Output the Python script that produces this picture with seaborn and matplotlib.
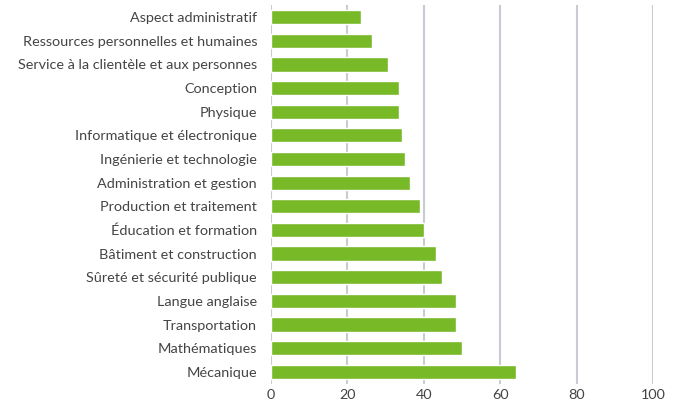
import matplotlib
matplotlib.use("Agg")
import matplotlib.pyplot as plt
import seaborn as sns
import pandas as pd

# data
categories = [
    "Aspect administratif",
    "Ressources personnelles et humaines",
    "Service à la clientèle et aux personnes",
    "Conception",
    "Physique",
    "Informatique et électronique",
    "Ingénierie et technologie",
    "Administration et gestion",
    "Production et traitement",
    "Éducation et formation",
    "Bâtiment et construction",
    "Sûreté et sécurité publique",
    "Langue anglaise",
    "Transportation",
    "Mathématiques",
    "Mécanique",
]
values = [23.6, 26.5, 30.7, 33.6, 33.6, 34.2, 35.2, 36.5, 38.9, 40.0,
          43.1, 44.7, 48.3, 48.3, 49.9, 64.1]
x_ticks = [0, 20, 40, 60, 80, 100]

df = pd.DataFrame({"categorie": categories, "valeur": values})

sns.set_style("white")
plt.rcParams["font.family"] = ["Lato", "DejaVu Sans"]

fig = plt.figure(figsize=(6.79, 4.09), dpi=100)
ax = fig.add_axes([0.399, 0.062, 0.563, 0.925])

sns.barplot(data=df, x="valeur", y="categorie", color="#78b928",
            width=0.6, saturation=1, ax=ax, zorder=3)

ax.set_xlim(0, 100)
ax.set_xticks(x_ticks)
ax.grid(axis="x", color="#c8ccd2", linewidth=1.5, zorder=0)
ax.set_axisbelow(True)
ax.set_xlabel("")
ax.set_ylabel("")
for s in ax.spines.values():
    s.set_visible(False)
ax.tick_params(axis="both", length=0, labelsize=10.4, labelcolor="#444444")
ax.tick_params(axis="y", pad=10)
ax.tick_params(axis="x", pad=4)

fig.savefig("out.png", dpi=100)
